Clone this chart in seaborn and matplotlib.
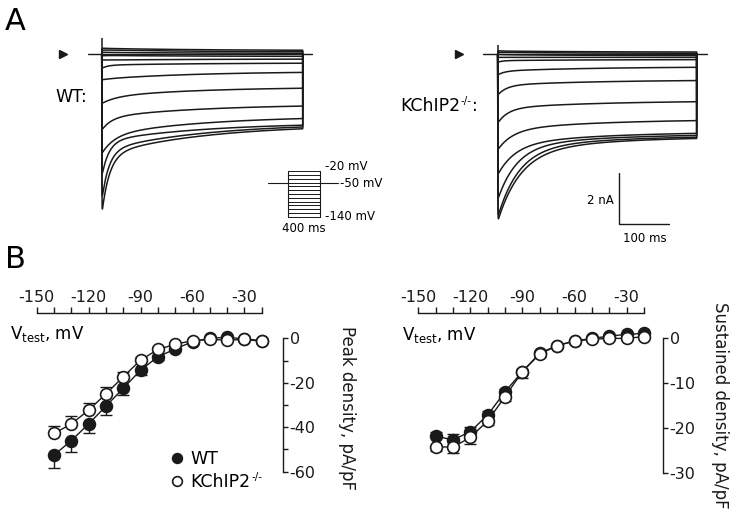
import numpy as np
import pandas as pd
import matplotlib
matplotlib.use("Agg")
import matplotlib.pyplot as plt
from matplotlib.lines import Line2D
import seaborn as sns

sns.set_theme(style="white")
plt.rcParams['font.family'] = ['DejaVu Sans']
plt.rcParams['mathtext.fontset'] = 'dejavusans'
for key in ['text.color', 'axes.labelcolor', 'xtick.color', 'ytick.color', 'axes.edgecolor']:
    plt.rcParams[key] = 'black'

W, H = 737, 514

# ---------------- Panel B data ----------------
vtest = [-140, -130, -120, -110, -100, -90, -80, -70, -60, -50, -40, -30, -20]
peak_wt = [-52.5, -46.0, -38.5, -30.5, -22.5, -14.3, -8.3, -4.8, -1.5, 0.0, 0.5, -0.3, -1.0]
peak_wt_err = [6.0, 5.0, 4.0, 4.0, 3.0, 2.0, 1.5, 1.0, 0.8, 0.5, 0.5, 0.5, 0.5]
peak_ko = [-42.8, -38.5, -32.3, -25.0, -17.3, -9.8, -5.0, -2.7, -1.0, -0.5, -0.8, -0.5, -1.3]
peak_ko_err = [3.5, 3.5, 3.3, 3.0, 2.0, 1.5, 1.0, 0.6, 0.5, 0.5, 0.5, 0.5, 0.5]

sus_wt = [-21.8, -22.7, -20.8, -17.1, -11.9, -7.4, -3.3, -1.6, -0.6, 0.0, 0.5, 0.9, 1.1]
sus_wt_err = [0.8, 1.3, 1.1, 0.8, 0.7, 0.5, 0.4, 0.3, 0.3, 0.3, 0.3, 0.3, 0.3]
sus_ko = [-24.2, -24.3, -22.1, -18.4, -13.0, -7.4, -3.5, -1.6, -0.6, -0.2, 0.0, 0.0, 0.4]
sus_ko_err = [1.0, 1.4, 1.4, 1.0, 0.9, 1.4, 0.6, 0.3, 0.3, 0.3, 0.3, 0.3, 0.3]

# ---------------- Panel A trace parameters (nA, ms) ----------------
wt_peak = [-6.3, -5.75, -4.8, -3.9, -2.97, -1.93, -1.0, -0.55, -0.22, -0.06, 0.08, 0.16, 0.24]
wt_mid = [-3.2, -3.1, -2.95, -2.7, -2.15, -1.42, -0.78, -0.37, -0.2, -0.07, 0.05, 0.12, 0.18]
wt_end = [-2.92, -2.85, -2.78, -2.52, -2.03, -1.33, -0.71, -0.35, -0.19, -0.08, 0.04, 0.1, 0.16]
wt_tau = [15, 14, 14, 25, 20, 30, 20, 12, 10, 8, 8, 8, 8]

ko_peak = [-6.56, -6.4, -5.71, -4.73, -3.75, -2.7, -1.6, -0.81, -0.31, -0.12, 0.0, 0.08, 0.14]
ko_mid = [-3.45, -3.38, -3.3, -3.22, -2.7, -1.93, -1.08, -0.55, -0.22, -0.12, -0.04, 0.05, 0.1]
ko_end = [-3.3, -3.25, -3.18, -3.1, -2.6, -1.86, -1.03, -0.51, -0.21, -0.12, -0.05, 0.04, 0.09]
ko_tau = [45, 42, 38, 35, 30, 21, 18, 14, 10, 8, 8, 8, 8]

step_levels = [-140, -130, -120, -110, -100, -90, -80, -70, -60, -50, -40, -30, -20]
holding_mV = -50
pulse_ms = 400
TAU_SLOW = 200.0
TAU_ACT = 0.25


def F(x, y):
    return (x / W, 1 - y / H)


def rect(x0, x1, ytop, ybot):
    return [x0 / W, 1 - ybot / H, (x1 - x0) / W, (ybot - ytop) / H]


def traces_df(peaks, mids, ends, taus):
    t = np.concatenate([np.linspace(0, 10, 401), np.linspace(10.5, pulse_ms, 780)])
    e1 = np.exp(-200 / TAU_SLOW)
    e2 = np.exp(-400 / TAU_SLOW)
    rows = []
    for k, (p, m, e, tau) in enumerate(zip(peaks, mids, ends, taus)):
        a2 = (m - e) / (e1 - e2)
        ss = e - a2 * e2
        a1 = p - ss - a2
        cur = (ss + a1 * np.exp(-t / tau) + a2 * np.exp(-t / TAU_SLOW)) * (1 - np.exp(-t / TAU_ACT))
        tt = np.append(t, pulse_ms)
        cc = np.append(cur, 0.0)
        rows.append(pd.DataFrame({'t': tt, 'I': cc, 'trace': k}))
    return pd.concat(rows, ignore_index=True)


fig = plt.figure(figsize=(W / 100, H / 100), dpi=100)

# ---------------- Panel A ----------------
ylimA = (-7.5, 1.0)
axWT = fig.add_axes(rect(56.5, 317.8, 28.8, 245.55))
axKO = fig.add_axes(rect(452.9, 711.6, 28.8, 245.55))
for ax, df, cap, base in [(axWT, traces_df(wt_peak, wt_mid, wt_end, wt_tau), 0.63, (-27, 419)),
                          (axKO, traces_df(ko_peak, ko_mid, ko_end, ko_tau), 0.36, (-30, 420))]:
    ax.set_xlim(-90, 430)
    ax.set_ylim(*ylimA)
    ax.axis('off')
    ax.plot(base, [0, 0], color='k', lw=1.0)
    ax.vlines(0, 0, cap, color='k', lw=1.1)
    sns.lineplot(data=df, x='t', y='I', units='trace', estimator=None, sort=False,
                 color='k', linewidth=1.1, ax=ax, legend=False)
    ax.plot([-77], [0], marker='>', color='k', markersize=6, clip_on=False)
    ax.set_xlabel('')
    ax.set_ylabel('')

# scale bar
scale_nA, scale_ms = 2, 100
sb_t, sb_y = 244, -6.67
axKO.plot([sb_t, sb_t, sb_t + scale_ms], [sb_y + scale_nA, sb_y, sb_y], color='k', lw=1.0)

# protocol inset
axP = fig.add_axes(rect(267.2, 339.2, 169.1, 218.9))
axP.set_xlim(-260, 640)
axP.set_ylim(-145, -15)
axP.axis('off')
axP.plot([-250, 0], [holding_mV, holding_mV], color='k', lw=0.8)
axP.plot([pulse_ms, 625], [holding_mV, holding_mV], color='k', lw=0.8)
for lv in step_levels:
    axP.plot([0, pulse_ms], [lv, lv], color='k', lw=0.7)
axP.plot([0, 0], [min(step_levels), max(step_levels)], color='k', lw=0.8)
axP.plot([pulse_ms, pulse_ms], [min(step_levels), max(step_levels)], color='k', lw=0.8)

small = 8.5
fig.text(*F(325, 166), "-20 mV", fontsize=small, va='center', ha='left')
fig.text(*F(340, 183), "-50 mV", fontsize=small, va='center', ha='left')
fig.text(*F(325, 217), "-140 mV", fontsize=small, va='center', ha='left')
fig.text(*F(304, 228), "400 ms", fontsize=small, va='center', ha='center')
fig.text(*F(614, 200), "2 nA", fontsize=small, va='center', ha='right')
fig.text(*F(645, 238), "100 ms", fontsize=small, va='center', ha='center')

fig.text(*F(5, 21), "A", fontsize=22, va='center', ha='left')
fig.text(*F(5, 260), "B", fontsize=22, va='center', ha='left')
fig.text(*F(55, 97), "WT:", fontsize=12.5, va='center', ha='left')

renderer = fig.canvas.get_renderer()


def add_sup(text_obj, sup, tail='', fs_ratio=0.6):
    """Place a small superscript (and optional tail text) right after text_obj."""
    bb = text_obj.get_window_extent(renderer)
    fs = text_obj.get_fontsize()
    s = fig.text(bb.x1 / W + 0.5 / W, bb.y1 / H + 1 / H, sup, fontsize=fs * fs_ratio,
                 va='top', ha='left')
    if tail:
        bb2 = s.get_window_extent(renderer)
        fig.text(bb2.x1 / W + 0.5 / W, (bb.y0 + bb.y1) / 2 / H, tail, fontsize=fs,
                 va='center', ha='left')


ko_lab = fig.text(*F(400, 106), "KChIP2", fontsize=12.5, va='center', ha='left')
add_sup(ko_lab, "-/-", ":")

# ---------------- Panel B ----------------
def iv_axes(r, xlim, ylim, yticks, ylabels):
    ax = fig.add_axes(r)
    ax.set_xlim(*xlim)
    ax.set_ylim(*ylim)
    for s in ['left', 'bottom']:
        ax.spines[s].set_visible(False)
    for s in ['top', 'right']:
        ax.spines[s].set_visible(True)
        ax.spines[s].set_color('k')
        ax.spines[s].set_linewidth(1.0)
    ax.spines['top'].set_bounds(-150, -20)
    ax.spines['right'].set_bounds(min(yticks), max(yticks))
    ax.xaxis.set_ticks_position('top')
    ax.yaxis.set_ticks_position('right')
    xt = list(range(-150, -10, 10))
    ax.set_xticks(xt)
    ax.set_xticklabels([str(v) if v % 30 == 0 else '' for v in xt])
    ax.set_yticks(yticks)
    ax.set_yticklabels(ylabels)
    ax.tick_params(axis='x', direction='out', length=4.5, width=1, pad=1.5,
                   labelsize=11.5, colors='k', top=True, bottom=False)
    ax.tick_params(axis='y', direction='out', length=3.5, width=1, pad=1.5,
                   labelsize=11.5, colors='k', right=True, left=False)
    ax.yaxis.set_label_position('right')
    ax.grid(False)
    ax.patch.set_alpha(0)
    return ax


def draw_series(ax, y, err_lo, err_hi, face):
    ax.errorbar(vtest, y, yerr=[err_lo, err_hi], fmt='none', ecolor='k',
                elinewidth=1.0, capsize=4.5, capthick=1.0, clip_on=False)
    sns.lineplot(x=vtest, y=y, ax=ax, color='k', linewidth=1.0, marker='o',
                 markersize=8.5, markerfacecolor=face, markeredgecolor='k',
                 markeredgewidth=1.2, clip_on=False)


zeros = [0] * len(vtest)

axL = iv_axes(rect(36.7, 282.7, 313, 471.7), (-150, -7.9), (-60, 11.4),
              list(range(-60, 1, 10)), ['-60', '', '-40', '', '-20', '', '0'])
draw_series(axL, peak_wt, peak_wt_err, zeros, 'k')
draw_series(axL, peak_ko, zeros, peak_ko_err, 'white')
axL.set_xlabel('')
axL.set_ylabel("Peak density, pA/pF", rotation=-90, fontsize=12, color='k', ha='center', va='center')
axL.yaxis.set_label_coords((347 - 36.7) / 246, (471.7 - 407.5) / 158.7)

axR = iv_axes(rect(418.3, 662.7, 313, 472.7), (-150, -9.2), (-30, 5.67),
              [-30, -20, -10, 0], ['-30', '-20', '-10', '0'])
draw_series(axR, sus_wt, zeros, sus_wt_err, 'k')
draw_series(axR, sus_ko, sus_ko_err, zeros, 'white')
axR.set_xlabel('')
axR.set_ylabel("Sustained density, pA/pF", rotation=-90, fontsize=12, color='k', ha='center', va='center')
axR.yaxis.set_label_coords((720 - 418.3) / 244.4, (472.7 - 405) / 159.7)

fig.text(*F(10, 334), r"V$_{\mathrm{test}}$, mV", fontsize=12, va='center', ha='left')
fig.text(*F(402, 335), r"V$_{\mathrm{test}}$, mV", fontsize=12, va='center', ha='left')

handles = [Line2D([], [], ls='none', marker='o', markersize=7, markerfacecolor='k', markeredgecolor='k', markeredgewidth=1.2),
           Line2D([], [], ls='none', marker='o', markersize=7, markerfacecolor='white', markeredgecolor='k', markeredgewidth=1.2)]
leg = axL.legend(handles, ['WT', 'KChIP2'], loc='center left', bbox_to_anchor=F(168, 470.8),
                 bbox_transform=fig.transFigure, frameon=False, fontsize=12.5, handlelength=1.0,
                 handletextpad=0.3, labelspacing=0.3, borderpad=0, borderaxespad=0)
fig.canvas.draw()
add_sup(leg.get_texts()[1], "-/-")

fig.savefig("out.png", dpi=100)
